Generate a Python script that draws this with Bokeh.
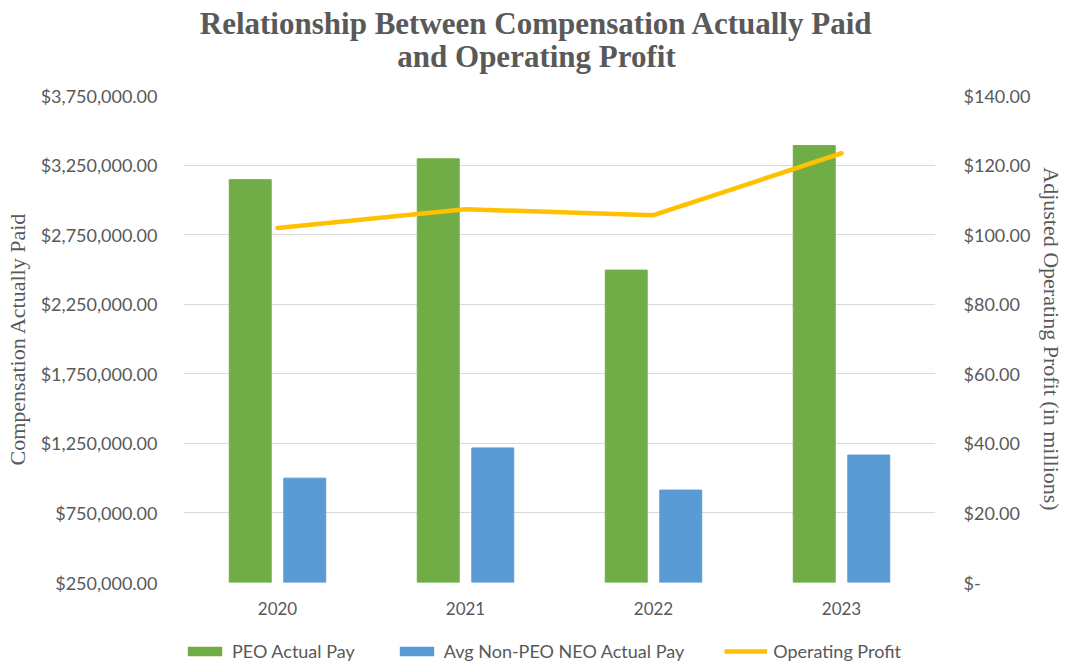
from bokeh.plotting import figure
from bokeh.models import (Range1d, LinearAxis, FixedTicker, Legend, LegendItem,
                          Label, FactorRange)
from bokeh.layouts import column
from bokeh.transform import dodge
from bokeh.embed import file_html
from bokeh.resources import INLINE

years = ["2020", "2021", "2022", "2023"]
peo_actual_pay = [3145000, 3295000, 2495000, 3390000]
non_peo_actual_pay = [1000000, 1217000, 914000, 1166000]
operating_profit = [101.9, 107.3, 105.6, 123.4]

left_ticks = [250000, 750000, 1250000, 1750000, 2250000, 2750000, 3250000, 3750000]
left_tick_labels = ["$250,000.00", "$750,000.00", "$1,250,000.00", "$1,750,000.00",
                    "$2,250,000.00", "$2,750,000.00", "$3,250,000.00", "$3,750,000.00"]
right_ticks = [0, 20, 40, 60, 80, 100, 120, 140]
right_tick_labels = ["$-", "$20.00", "$40.00", "$60.00", "$80.00", "$100.00",
                     "$120.00", "$140.00"]

title_lines = ["Relationship Between Compensation Actually Paid", "and Operating Profit"]
left_title = "Compensation Actually Paid"
right_title = "Adjusted Operating Profit (in millions)"
series_names = ["PEO Actual Pay", "Avg Non-PEO NEO Actual Pay", "Operating Profit"]

GREEN = "#70AD47"
BLUE = "#5B9BD5"
GOLD = "#FFC000"
TXT = "#595959"
GRID = "#D9D9D9"
W = 1067
FRAME_L = 183
TITLE_H = 80
LEGEND_H = 40
MAIN_H = 665 - TITLE_H - LEGEND_H


def bare_fig(h):
    f = figure(width=W, height=h, x_range=Range1d(0, 1), y_range=Range1d(0, 1),
               output_backend="svg", toolbar_location=None, title_location=None,
               x_axis_location=None, y_axis_location=None,
               min_border=0, min_border_left=FRAME_L, min_border_right=132,
               min_border_top=0, min_border_bottom=0)
    f.outline_line_color = None
    f.xgrid.visible = False
    f.ygrid.visible = False
    f.background_fill_color = "white"
    f.border_fill_color = "white"
    return f


# ---- title ----
tf = bare_fig(TITLE_H)
for text, yy in zip(title_lines, [TITLE_H - 23, TITLE_H - 56]):
    tf.add_layout(Label(x=536 - FRAME_L, y=yy, x_units="screen", y_units="screen",
                        text=text, text_align="center", text_baseline="alphabetic",
                        text_font="Liberation Serif", text_font_size="31px",
                        text_font_style="bold", text_color=TXT))

# ---- main chart ----
p = figure(width=W, height=MAIN_H, x_range=FactorRange(*years),
           y_range=Range1d(left_ticks[0], left_ticks[-1]),
           output_backend="svg", toolbar_location=None, title_location=None,
           min_border_left=FRAME_L, min_border_right=132,
           min_border_top=95 - TITLE_H, min_border_bottom=MAIN_H - (582 - TITLE_H))
p.outline_line_color = None
p.background_fill_color = "white"
p.border_fill_color = "white"

p.extra_y_ranges = {"profit": Range1d(right_ticks[0], right_ticks[-1])}

data = dict(years=years, peo=peo_actual_pay, non=non_peo_actual_pay, op=operating_profit)
r1 = p.vbar(x=dodge("years", -0.145, range=p.x_range), top="peo", bottom=left_ticks[0],
            width=0.223, color=GREEN, source=data)
r2 = p.vbar(x=dodge("years", 0.145, range=p.x_range), top="non", bottom=left_ticks[0],
            width=0.223, color=BLUE, source=data)
r3 = p.line(x="years", y="op", y_range_name="profit", line_color=GOLD, line_width=4.5,
            line_cap="round", source=data)

ly = p.yaxis[0]
ly.ticker = FixedTicker(ticks=left_ticks)
ly.major_label_overrides = {t: l for t, l in zip(left_ticks, left_tick_labels)}
ly.axis_label = left_title

ry = LinearAxis(y_range_name="profit", ticker=FixedTicker(ticks=right_ticks),
                axis_label=right_title)
ry.major_label_overrides = {t: l for t, l in zip(right_ticks, right_tick_labels)}
p.add_layout(ry, "right")

for ax in [ly, ry]:
    ax.axis_line_color = None
    ax.major_tick_line_color = None
    ax.minor_tick_line_color = None
    ax.major_label_text_font = "Lato"
    ax.major_label_text_font_size = "18px"
    ax.major_label_text_color = TXT
    ax.axis_label_text_font = "Liberation Serif"
    ax.axis_label_text_font_style = "normal"
    ax.axis_label_text_font_size = "22px"
    ax.axis_label_text_color = TXT
ly.major_label_standoff = 20
ly.axis_label_standoff = 8
ry.major_label_standoff = 22
ry.axis_label_standoff = 6

xa = p.xaxis[0]
xa.axis_line_color = None
xa.major_tick_line_color = None
xa.minor_tick_line_color = None
xa.major_label_text_font = "Lato"
xa.major_label_text_font_size = "17px"
xa.major_label_text_color = TXT
xa.major_label_standoff = 13

p.xgrid.grid_line_color = None
p.ygrid.grid_line_color = GRID
p.ygrid.grid_line_width = 1
p.ygrid.ticker = FixedTicker(ticks=left_ticks)

# ---- legend ----
lf = bare_fig(LEGEND_H)
hidden = dict(x=[0.5], y=[0.0])
g1 = lf.vbar(x="x", top="y", bottom=0, width=0.1, fill_color=GREEN, line_color=None,
             source=hidden)
g2 = lf.vbar(x="x", top="y", bottom=0, width=0.1, fill_color=BLUE, line_color=None,
             source=hidden)
g3 = lf.line(x="x", y="y", line_color=GOLD, line_width=4.5, source=hidden)
legend = Legend(items=[LegendItem(label=series_names[0], renderers=[g1]),
                       LegendItem(label=series_names[1], renderers=[g2]),
                       LegendItem(label=series_names[2], renderers=[g3])],
                orientation="horizontal", location=(0, 3),
                label_text_font="Lato", label_text_font_size="18px",
                label_text_color=TXT, glyph_width=43, glyph_height=12,
                spacing=40, label_standoff=6, border_line_color=None,
                background_fill_alpha=0, padding=0, margin=0)
lf.add_layout(legend, "center")

layout = column(tf, p, lf, spacing=0)
open("out.html", "w").write(file_html(layout, INLINE))
